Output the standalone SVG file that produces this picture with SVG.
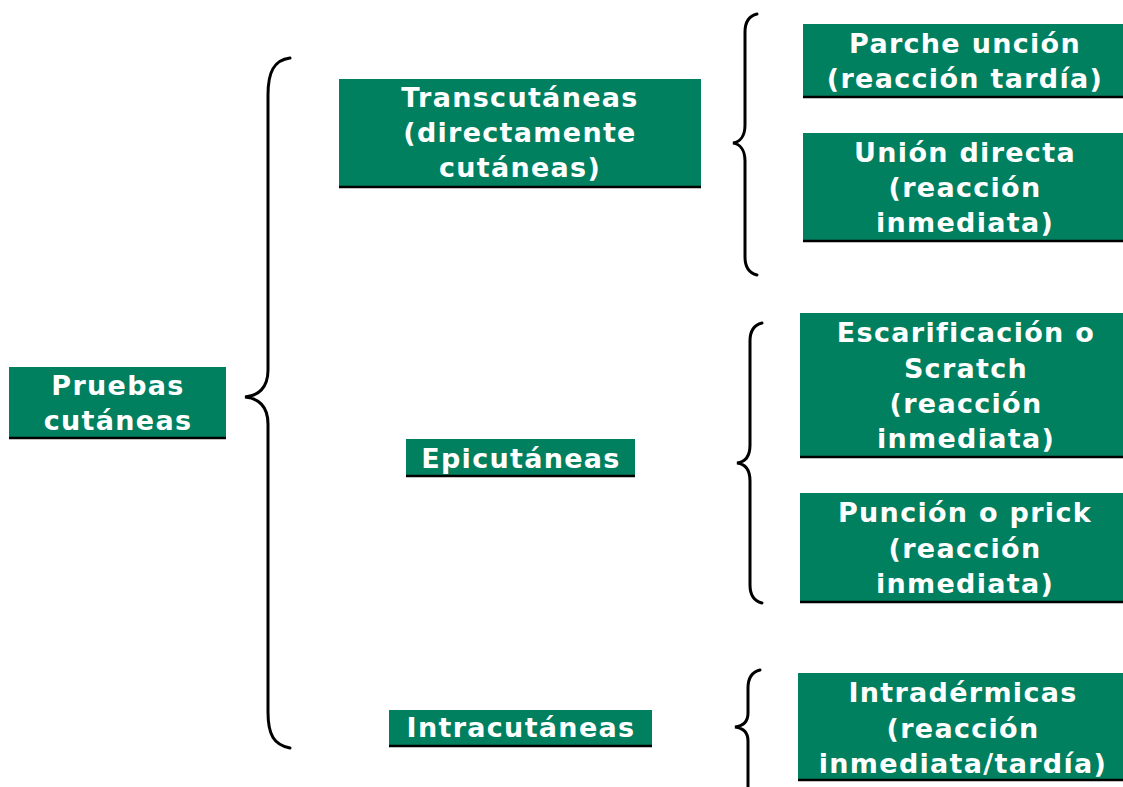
<svg xmlns="http://www.w3.org/2000/svg" width="1123" height="787" viewBox="0 0 1123 787">
<style>
.box{fill:#00805F}
.base{stroke:#000;stroke-width:2.5}
.t{font-family:"DejaVu Sans",Verdana,sans-serif;font-weight:bold;font-size:27px;fill:#fff;text-anchor:middle;letter-spacing:1.3px}
.br{fill:none;stroke:#000;stroke-width:3;stroke-linecap:round}
</style>
<rect width="1123" height="787" fill="#fff"/>
<g id="connectors">
<path class="br" d="M290,58 C274,60 268,72 268,95 L268,370 C268,388 258,396 245,397 C258,398 268,406 268,424 L268,712 C268,735 274,745 290,748"/>
<path class="br" d="M757,14 C749,16 745,22 745,32 L745,125 C745,136 740,142 733,143 C740,144 745,150 745,161 L745,257 C745,267 749,273 757,275"/>
<path class="br" d="M762,323 C754,325 750,331 750,341 L750,445 C750,456 745,462 737,463 C745,464 750,470 750,481 L750,585 C750,595 754,601 762,603"/>
<path class="br" d="M760,670 C752,672 748,678 748,688 L748,713 C748,722 743,726 735,727 C743,728 748,732 748,741 L748,787"/>
</g>
<g id="pruebas">
<rect class="box" x="9" y="367" width="217" height="71"/>
<line class="base" x1="9" y1="438" x2="226" y2="438"/>
<text class="t" x="118" y="395">Pruebas</text>
<text class="t" x="118" y="430">cutáneas</text>
</g>
<g id="transcutaneas">
<rect class="box" x="339" y="79" width="362" height="108"/>
<line class="base" x1="339" y1="187" x2="701" y2="187"/>
<text class="t" x="520" y="107">Transcutáneas</text>
<text class="t" x="520" y="142">(directamente</text>
<text class="t" x="520" y="177">cutáneas)</text>
</g>
<g id="epicutaneas">
<rect class="box" x="406" y="439" width="229" height="37"/>
<line class="base" x1="406" y1="476" x2="635" y2="476"/>
<text class="t" x="521" y="468">Epicutáneas</text>
</g>
<g id="intracutaneas">
<rect class="box" x="389" y="710" width="263" height="36"/>
<line class="base" x1="389" y1="746" x2="652" y2="746"/>
<text class="t" x="521" y="737">Intracutáneas</text>
</g>
<g id="parche">
<rect class="box" x="803" y="24" width="320" height="73"/>
<line class="base" x1="803" y1="97" x2="1123" y2="97"/>
<text class="t" x="965" y="53">Parche unción</text>
<text class="t" x="965" y="88">(reacción tardía)</text>
</g>
<g id="union">
<rect class="box" x="803" y="133" width="320" height="108"/>
<line class="base" x1="803" y1="241" x2="1123" y2="241"/>
<text class="t" x="965" y="162">Unión directa</text>
<text class="t" x="965" y="197">(reacción</text>
<text class="t" x="965" y="232">inmediata)</text>
</g>
<g id="escarificacion">
<rect class="box" x="800" y="313" width="323" height="144"/>
<line class="base" x1="800" y1="457" x2="1123" y2="457"/>
<text class="t" x="966" y="342">Escarificación o</text>
<text class="t" x="966" y="378">Scratch</text>
<text class="t" x="966" y="413">(reacción</text>
<text class="t" x="966" y="448">inmediata)</text>
</g>
<g id="puncion">
<rect class="box" x="800" y="493" width="323" height="109"/>
<line class="base" x1="800" y1="602" x2="1123" y2="602"/>
<text class="t" x="965" y="522">Punción o prick</text>
<text class="t" x="965" y="558">(reacción</text>
<text class="t" x="965" y="593">inmediata)</text>
</g>
<g id="intradermicas">
<rect class="box" x="798" y="673" width="325" height="107"/>
<line class="base" x1="798" y1="780" x2="1123" y2="780"/>
<text class="t" x="963" y="702">Intradérmicas</text>
<text class="t" x="963" y="738">(reacción</text>
<text class="t" x="963" y="773">inmediata/tardía)</text>
</g>
</svg>
